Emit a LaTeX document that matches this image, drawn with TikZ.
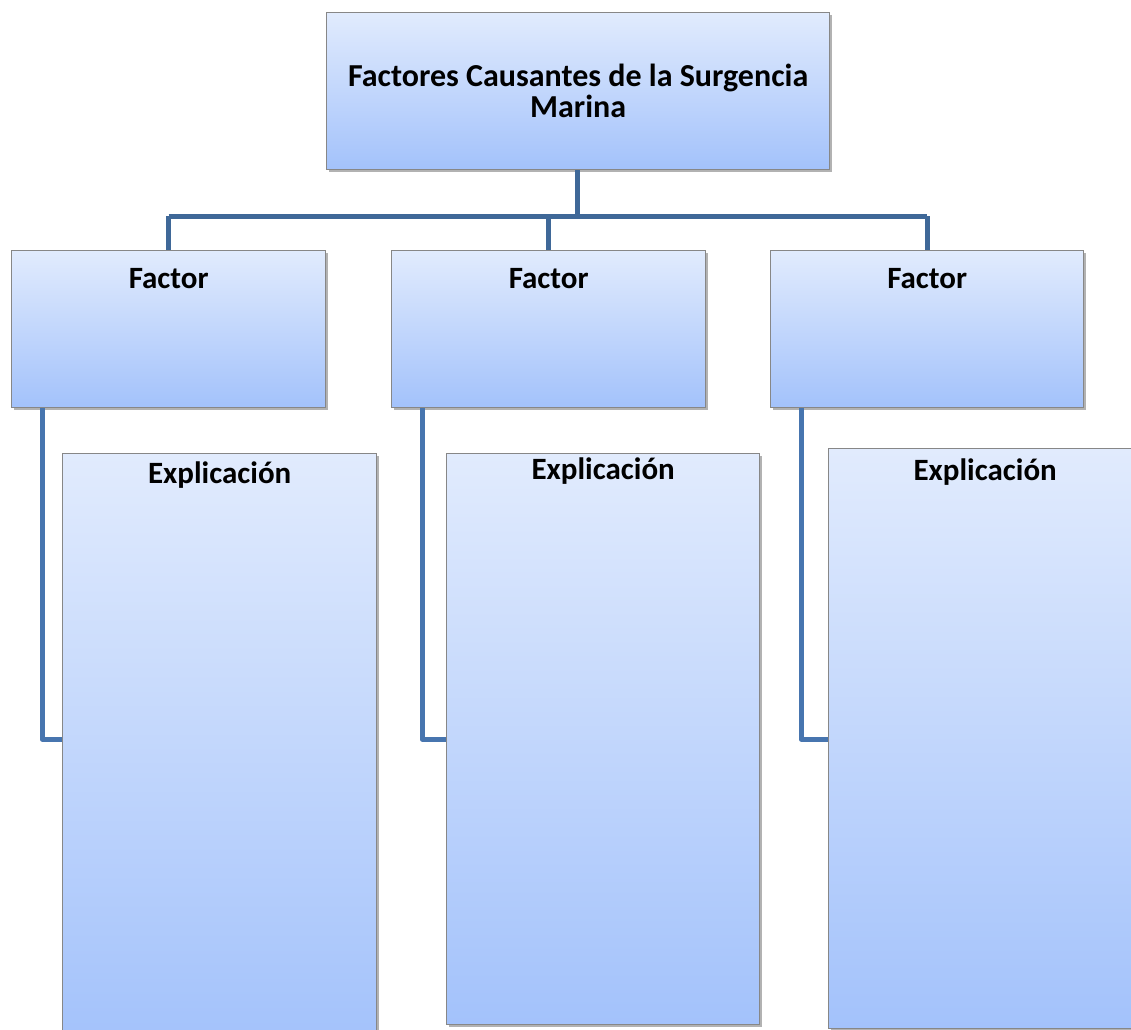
\documentclass[tikz,border=0pt]{standalone}
\usepackage{fontspec}
\setmainfont{Carlito}
\usetikzlibrary{shadows}
\definecolor{boxtop}{RGB}{225,235,253}
\definecolor{boxbot}{RGB}{163,194,251}
\definecolor{boxline}{RGB}{135,135,135}
\definecolor{treeline}{RGB}{63,104,152}
\definecolor{sideline}{RGB}{71,117,175}
\tikzset{
  box/.style={draw=boxline, line width=1.3pt, top color=boxtop, bottom color=boxbot,
    anchor=north west, inner sep=0pt,
    drop shadow={shadow xshift=2pt, shadow yshift=-2.5pt, fill=black, opacity=0.3}},
  lbl/.style={font=\bfseries\fontsize{31}{31}\selectfont, anchor=base, inner sep=0pt},
  tree/.style={draw=treeline, line width=5pt},
  side/.style={draw=sideline, line width=5pt, line join=round},
}
\begin{document}
\begin{tikzpicture}[x=1pt,y=-1pt]
\path[use as bounding box] (0,0) rectangle (1131,1029);
\clip (0,0) rectangle (1131,1029);
% top box
\node[box, minimum width=503pt, minimum height=157pt, align=center,
      font=\bfseries\fontsize{32}{31}\selectfont] (top) at (326,12)
      {Factores Causantes de la Surgencia\\Marina};
% factor boxes
\node[box, minimum width=314pt, minimum height=157pt] (F1) at (11,250) {};
\node[box, minimum width=314pt, minimum height=157pt] (F2) at (391,250) {};
\node[box, minimum width=313pt, minimum height=157pt] (F3) at (770,250) {};
\node[lbl] (tf1) at ([yshift=-38pt]F1.north) {Factor};
\node[lbl] (tf2) at ([yshift=-38pt]F2.north) {Factor};
\node[lbl] (tf3) at ([yshift=-38pt]F3.north) {Factor};
% explanation boxes
\node[box, minimum width=314pt, minimum height=590pt] (E1) at (62,453) {};
\node[box, minimum width=313pt, minimum height=571pt] (E2) at (446,453) {};
\node[box, minimum width=313pt, minimum height=580pt] (E3) at (828,448) {};
\node[lbl] (te1) at ([yshift=-30pt]E1.north) {Explicación};
\node[lbl] (te2) at ([yshift=-26pt]E2.north) {Explicación};
\node[lbl] (te3) at ([yshift=-32pt]E3.north) {Explicación};
% tree connectors
\coordinate (hub) at (577,216);
\draw[tree] (top.south -| hub) -- (hub);
\draw[tree] (F1.north |- hub) -- (F3.north |- hub);
\draw[tree] (F1.north |- hub) -- (F1.north);
\draw[tree] (F2.north |- hub) -- (F2.north);
\draw[tree] (F3.north |- hub) -- (F3.north);
% side connectors
\coordinate (k1) at (42,739);
\coordinate (k2) at (422,739);
\coordinate (k3) at (801,739);
\draw[side] (F1.south -| k1) -- (k1) -- (k1 -| E1.west);
\draw[side] (F2.south -| k2) -- (k2) -- (k2 -| E2.west);
\draw[side] (F3.south -| k3) -- (k3) -- (k3 -| E3.west);
\end{tikzpicture}
\end{document}
